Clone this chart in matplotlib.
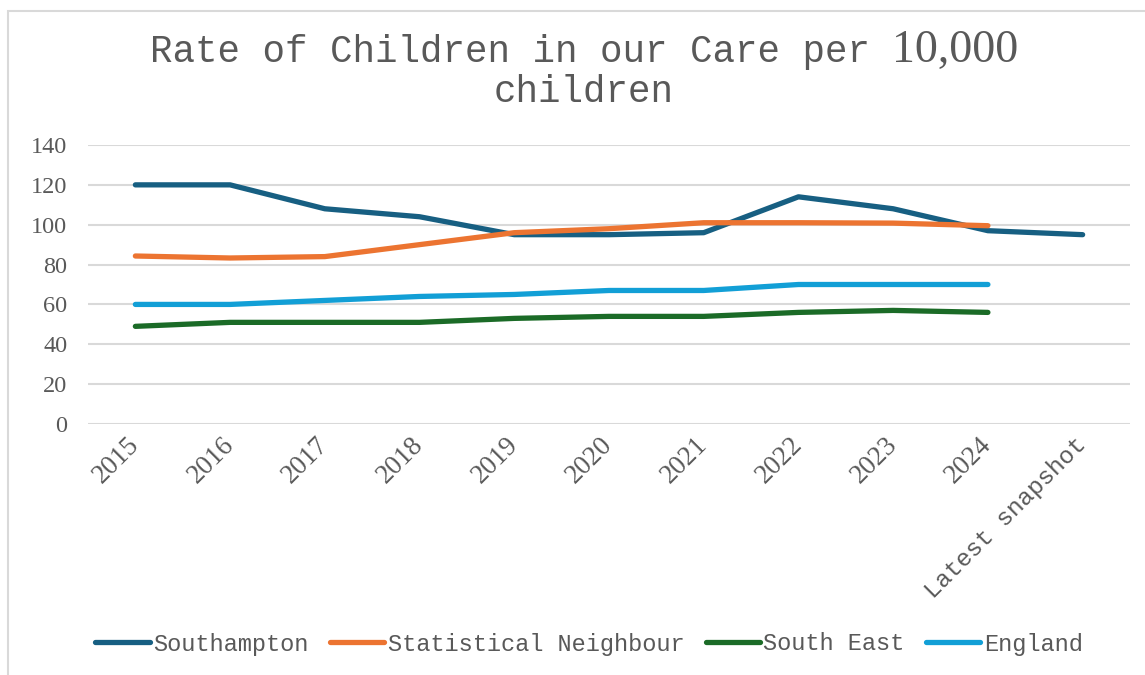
import matplotlib.pyplot as plt
from matplotlib.patches import Rectangle

# categories and series
categories = ["2015", "2016", "2017", "2018", "2019", "2020", "2021", "2022", "2023", "2024", "Latest snapshot"]
southampton = [120, 120, 108, 104, 95, 95, 96, 114, 108, 97, 95]
stat_neighbour = [84.3, 83.3, 84, 90, 96, 98, 101, 101, 100.8, 99.5]
south_east = [49, 51, 51, 51, 53, 54, 54, 56, 57, 56]
england = [60, 60, 62, 64, 65, 67, 67, 70, 70, 70]

series = [
    ("Southampton", southampton, "#175f82"),
    ("Statistical Neighbour", stat_neighbour, "#ec7431"),
    ("South East", south_east, "#1b6b27"),
    ("England", england, "#129fd6"),
]

txt = "#595959"
grid = "#d9d9d9"
mono = "Liberation Mono"
serif = "Liberation Serif"

W, H = 1145, 675
fig = plt.figure(figsize=(W / 100, H / 100), dpi=100)

# outer chart frame
fig.patches.append(Rectangle((8 / W, -0.1), 1.2, 1.1 - 11 / H, transform=fig.transFigure,
                             fill=False, edgecolor=grid, lw=1.5))

ax = fig.add_axes([88 / W, 1 - 424 / H, (1130 - 88) / W, (424 - 145) / H])

x = list(range(len(categories)))
for name, vals, col in series:
    ax.plot(x[:len(vals)], vals, color=col, lw=3.8, label=name,
            solid_capstyle="round", solid_joinstyle="round")

ax.set_xlim(-0.5, len(categories) - 0.5)
ax.set_ylim(0, 140)
ax.set_yticks(range(0, 141, 20))
ax.yaxis.grid(True, color=grid, lw=1.5)
ax.set_axisbelow(True)
for s in ax.spines.values():
    s.set_visible(False)
ax.tick_params(axis="both", length=0)
ax.tick_params(axis="y", pad=15)
ax.tick_params(axis="x", pad=12)
for lab in ax.get_yticklabels():
    lab.set_fontfamily(serif)
    lab.set_fontsize(17.5)
    lab.set_color(txt)

ax.set_xticks(x)
ax.set_xticklabels(categories, rotation=45, ha="right", va="center", rotation_mode="anchor")
for lab in ax.get_xticklabels():
    lab.set_color(txt)
    if lab.get_text().isdigit():
        lab.set_fontfamily(serif)
        lab.set_fontsize(19.5)
    else:
        lab.set_fontfamily(mono)
        lab.set_fontsize(17.5)

# title: monospace text with the number in a serif face
cx = 584 / W
t1 = fig.text(0, 1 - 62 / H, "Rate of Children in our Care per", fontfamily=mono,
              fontsize=27, color=txt, ha="left", va="baseline")
t2 = fig.text(0, 1 - 62 / H, "10,000", fontfamily=serif, fontsize=33,
              color=txt, ha="left", va="baseline")
r = fig.canvas.get_renderer()
w1 = t1.get_window_extent(r).width
w2 = t2.get_window_extent(r).width
gap = 27 * 100 / 72 * 0.6
total = w1 + gap + w2
x0 = cx * W - total / 2
t1.set_x(x0 / W)
t2.set_x((x0 + w1 + gap) / W)
fig.text(cx, 1 - 102 / H, "children", fontfamily=mono, fontsize=27, color=txt,
         ha="center", va="baseline")

fig.legend(loc="center", bbox_to_anchor=(589 / W, 1 - 644 / H), ncol=4, frameon=False,
           prop={"family": mono, "size": 17}, labelcolor=txt, handlelength=2.3,
           handletextpad=0.15, columnspacing=0.9)

fig.savefig("out.png", dpi=100)
